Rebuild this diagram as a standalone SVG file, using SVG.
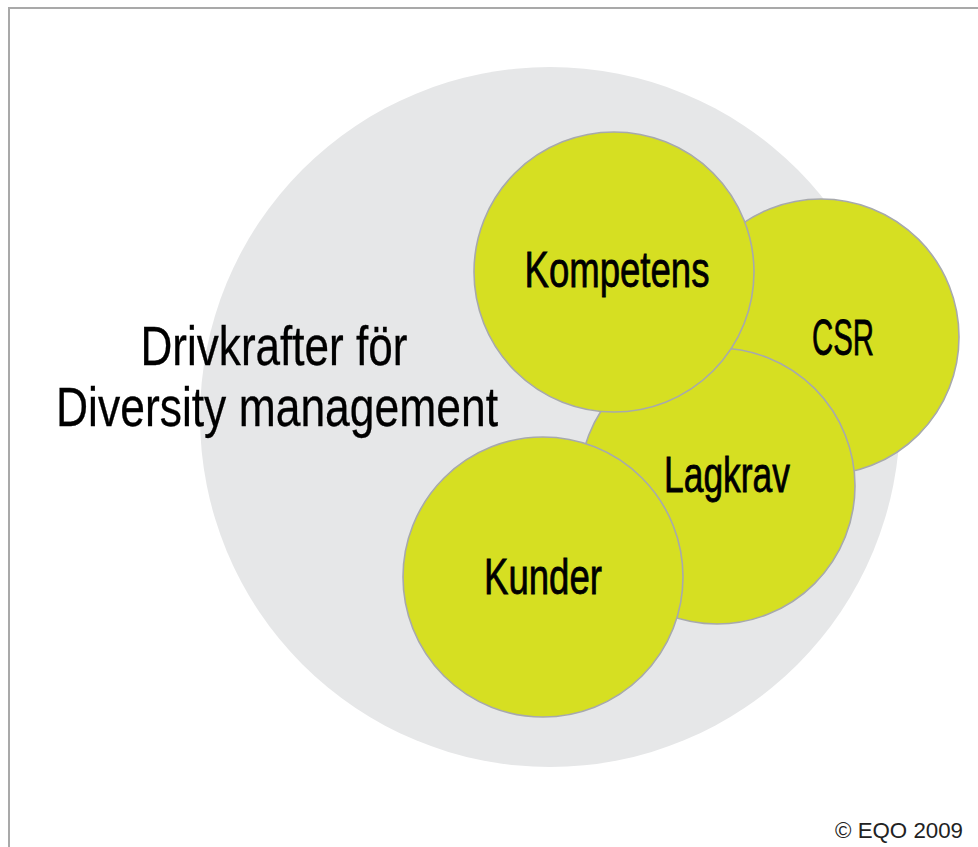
<svg xmlns="http://www.w3.org/2000/svg" width="978" height="847" viewBox="0 0 978 847">
<style>
.bg{fill:#ffffff}
.frame{fill:none;stroke:#a9a9a9;stroke-width:2}
.outer{fill:#e6e7e8}
.g{fill:#d6df22;stroke:#a7a9ac;stroke-width:1.6}
.lbl{font-family:"Liberation Sans",Arial,sans-serif;font-size:50px;fill:#000;stroke:#000;stroke-width:0.8;text-anchor:middle}
.title{font-family:"Liberation Sans",Arial,sans-serif;font-size:55px;fill:#000;stroke:#000;stroke-width:0.3;text-anchor:middle}
.copy{font-family:"Liberation Sans",Arial,sans-serif;font-size:22px;fill:#222}
</style>
<rect class="bg" x="0" y="0" width="978" height="847"/>
<path class="frame" d="M9 847 V8 H978"/>
<g id="outer"><circle class="outer" cx="550" cy="417" r="350"/></g>
<g id="title">
<text class="title" x="274" y="365" textLength="267" lengthAdjust="spacingAndGlyphs">Drivkrafter för</text>
<text class="title" x="277" y="426" textLength="442" lengthAdjust="spacingAndGlyphs">Diversity management</text>
</g>
<g id="csr"><circle class="g" cx="821" cy="337" r="138"/>
<text class="lbl" x="843" y="355" textLength="62" lengthAdjust="spacingAndGlyphs">CSR</text></g>
<g id="lagkrav"><circle class="g" cx="717" cy="486" r="138"/>
<text class="lbl" x="727" y="492" textLength="126" lengthAdjust="spacingAndGlyphs">Lagkrav</text></g>
<g id="kompetens"><circle class="g" cx="614" cy="272" r="140"/>
<text class="lbl" x="617" y="287" textLength="185" lengthAdjust="spacingAndGlyphs">Kompetens</text></g>
<g id="kunder"><circle class="g" cx="543" cy="577" r="140"/>
<text class="lbl" x="543" y="594" textLength="118" lengthAdjust="spacingAndGlyphs">Kunder</text></g>
<g id="connectors"/>
<text class="copy" x="835" y="838" textLength="128" lengthAdjust="spacingAndGlyphs">© EQO 2009</text>
</svg>
